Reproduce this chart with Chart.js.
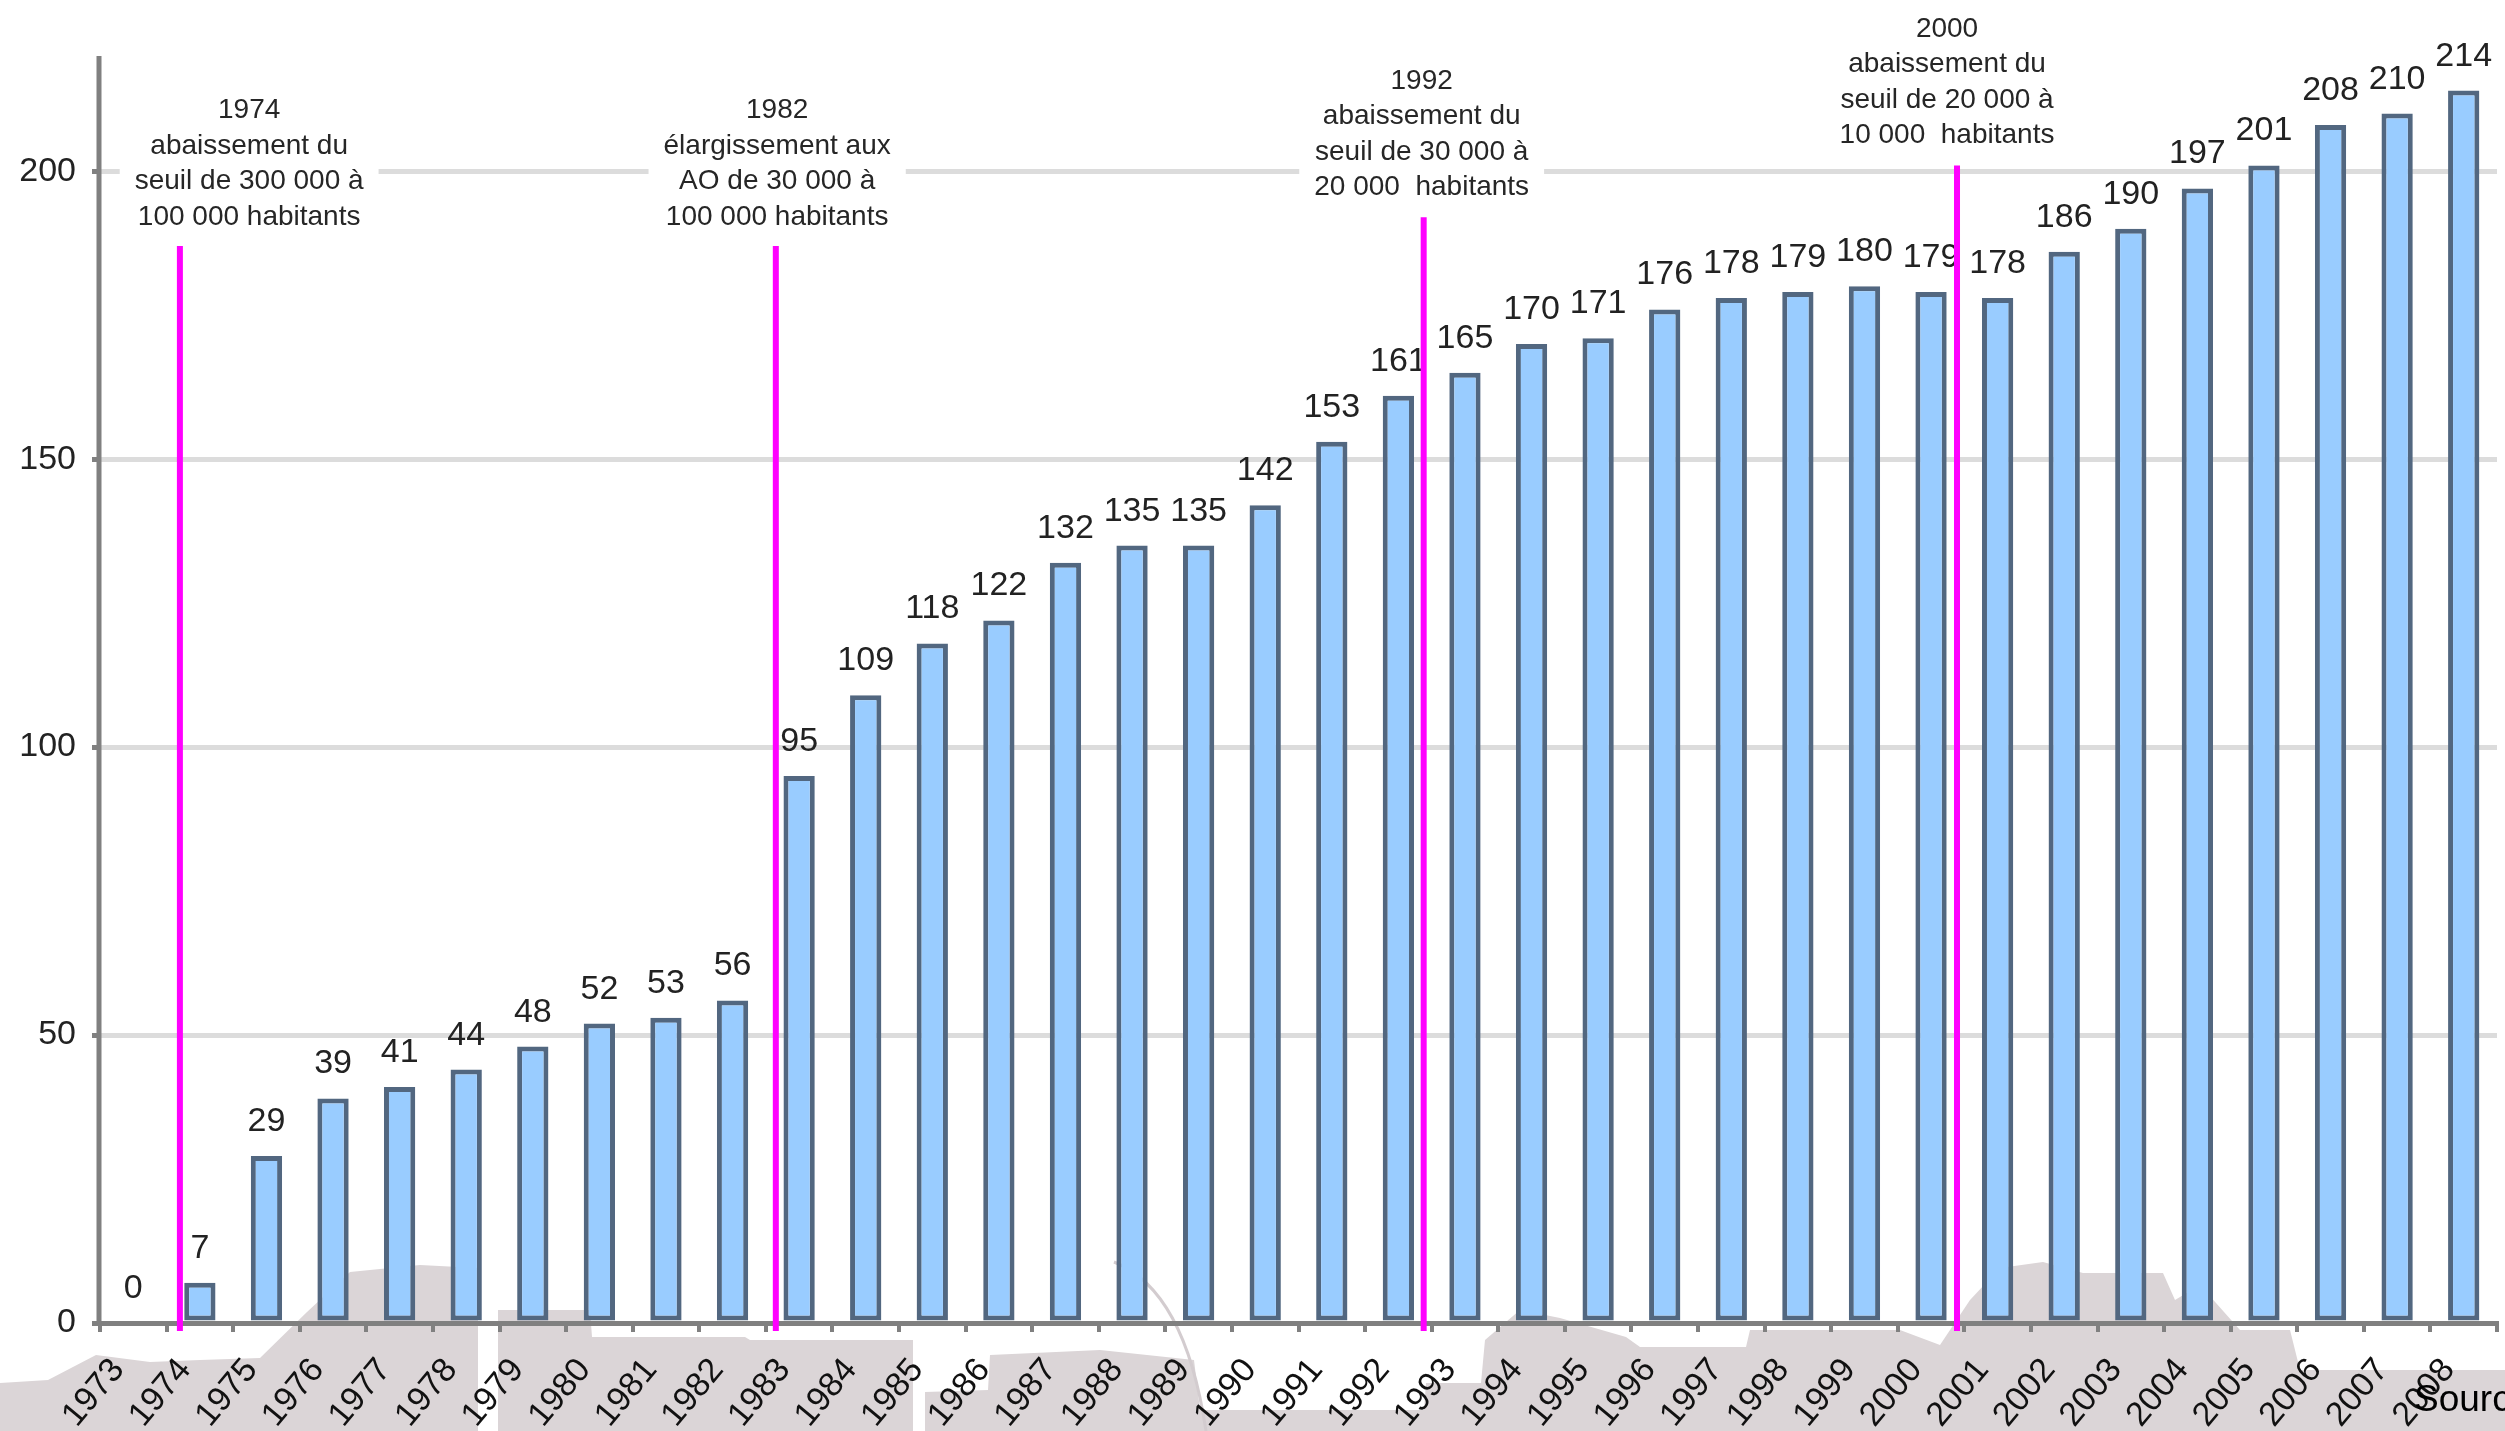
<!DOCTYPE html>
<html>
<head>
<meta charset="utf-8">
<script src="https://cdn.jsdelivr.net/npm/chart.js@4.4.1/dist/chart.umd.min.js"></script>
<style>
  html, body { margin: 0; padding: 0; background: #fff; }
  canvas { display: block; }
</style>
</head>
<body>
<canvas id="aoChart" width="2505" height="1431"></canvas>
<script>
const years = ['1973', '1974', '1975', '1976', '1977', '1978', '1979', '1980', '1981', '1982',
  '1983', '1984', '1985', '1986', '1987', '1988', '1989', '1990', '1991', '1992',
  '1993', '1994', '1995', '1996', '1997', '1998', '1999', '2000', '2001', '2002',
  '2003', '2004', '2005', '2006', '2007', '2008'];
const counts = [0, 7, 29, 39, 41, 44, 48, 52, 53, 56,
  95, 109, 118, 122, 132, 135, 135, 142, 153, 161,
  165, 170, 171, 176, 178, 179, 180, 179, 178, 186,
  190, 197, 201, 208, 210, 214];
const yTicks = [0, 50, 100, 150, 200];

const eventTexts = [
  ['1974', 'abaissement du', 'seuil de 300 000 à', '100 000 habitants'],
  ['1982', 'élargissement aux', 'AO de 30 000 à', '100 000 habitants'],
  ['1992', 'abaissement du', 'seuil de 30 000 à', '20 000  habitants'],
  ['2000', 'abaissement du', 'seuil de 20 000 à', '10 000  habitants']
];
const sourceText = 'Source';

// where the magenta markers sit (category index, fractional) and how high they reach
const eventLineAt = [0.70, 9.65, 19.38, 27.39];
const eventLineTop = [187, 187, 192, 201];
const eventTextAt = [1.74, 9.67, 19.35, 27.24];
const eventTextBottom = [192, 192, 197.2, 206.2];

const FONT = '"Liberation Sans", Arial, sans-serif';

// faint city silhouette behind the bottom of the chart (background picture)
const skyline = [
  [[0, 1431], [0, 1383], [48, 1380], [96, 1355], [150, 1362], [200, 1360], [260, 1358], [307, 1312],
   [350, 1272], [420, 1265], [478, 1268], [478, 1431]],
  [[498, 1431], [498, 1310], [590, 1310], [592, 1337], [745, 1337], [750, 1340], [913, 1340],
   [913, 1431]],
  [[925, 1431], [925, 1392], [988, 1390], [990, 1355], [1100, 1350], [1194, 1360], [1200, 1410],
   [1424, 1410], [1426, 1383], [1481, 1383], [1485, 1340], [1520, 1310], [1560, 1318], [1626, 1337],
   [1640, 1347], [1746, 1347], [1750, 1330], [1900, 1330], [1940, 1345], [1970, 1300], [2000, 1268],
   [2043, 1262], [2083, 1273], [2163, 1273], [2175, 1300], [2200, 1285], [2240, 1330], [2290, 1330],
   [2300, 1370], [2505, 1370], [2505, 1431]]
];

const backdrop = {
  id: 'backdrop',
  beforeDraw(chart) {
    const ctx = chart.ctx;
    ctx.save();
    ctx.fillStyle = '#ffffff';
    ctx.fillRect(0, 0, chart.width, chart.height);
    ctx.fillStyle = '#dbd5d7';
    skyline.forEach(poly => {
      ctx.beginPath();
      poly.forEach(([px, py], i) => (i ? ctx.lineTo(px, py) : ctx.moveTo(px, py)));
      ctx.closePath();
      ctx.fill();
    });
    // thin cable curve of the bridge
    ctx.strokeStyle = '#d3cccf';
    ctx.lineWidth = 3;
    ctx.beginPath();
    ctx.moveTo(1114, 1262);
    ctx.quadraticCurveTo(1185, 1290, 1206, 1431);
    ctx.stroke();
    ctx.restore();
  }
};

const eventNotes = {
  id: 'eventNotes',
  beforeDatasetsDraw(chart) {
    const ctx = chart.ctx;
    const xs = chart.scales.x, ys = chart.scales.y;
    const area = chart.chartArea;
    const lh = 35.5;
    ctx.save();
    // y axis line
    ctx.strokeStyle = '#808080';
    ctx.lineWidth = 5;
    ctx.beginPath();
    ctx.moveTo(area.left - 1, area.top);
    ctx.lineTo(area.left - 1, area.bottom);
    ctx.stroke();
    // milestone captions on white boxes
    ctx.font = '28px ' + FONT;
    ctx.textAlign = 'center';
    ctx.textBaseline = 'middle';
    eventTexts.forEach((lines, k) => {
      const cx = xs.getPixelForValue(eventTextAt[k]);
      const lastY = ys.getPixelForValue(eventTextBottom[k]);
      const firstY = lastY - lh * (lines.length - 1);
      const w = Math.max(...lines.map(t => ctx.measureText(t).width)) + 30;
      ctx.fillStyle = '#ffffff';
      ctx.fillRect(cx - w / 2, firstY - lh / 2, w, lh * lines.length);
      ctx.fillStyle = '#262626';
      lines.forEach((t, i) => ctx.fillText(t, cx, firstY + i * lh));
    });
    ctx.restore();
  },
  afterDatasetsDraw(chart) {
    const ctx = chart.ctx;
    const xs = chart.scales.x, ys = chart.scales.y;
    const meta = chart.getDatasetMeta(0);
    ctx.save();
    // value labels above bars
    ctx.font = '34px ' + FONT;
    ctx.fillStyle = '#222';
    ctx.textAlign = 'center';
    ctx.textBaseline = 'alphabetic';
    meta.data.forEach((bar, i) => {
      ctx.fillText(String(counts[i]), bar.x, bar.y - 25);
    });
    // magenta milestone lines
    ctx.strokeStyle = '#ff00ff';
    ctx.lineWidth = 6;
    eventLineAt.forEach((v, k) => {
      const x = xs.getPixelForValue(v);
      ctx.beginPath();
      ctx.moveTo(x, ys.getPixelForValue(eventLineTop[k]));
      ctx.lineTo(x, ys.getPixelForValue(0) + 8);
      ctx.stroke();
    });
    ctx.restore();
  },
  afterDraw(chart) {
    const ctx = chart.ctx;
    ctx.save();
    ctx.font = '37px ' + FONT;
    ctx.fillStyle = '#000';
    ctx.textAlign = 'left';
    ctx.textBaseline = 'alphabetic';
    ctx.fillText(sourceText, 2414, 1411);
    ctx.restore();
  }
};

const ctx = document.getElementById('aoChart').getContext('2d');
const aoChart = new Chart(ctx, {
  type: 'bar',
  data: {
    labels: years,
    datasets: [{
      data: counts,
      backgroundColor: '#99ccff',
      borderColor: '#526780',
      borderWidth: 5,
      borderSkipped: false,
      barPercentage: 0.47,
      categoryPercentage: 1
    }]
  },
  options: {
    responsive: false,
    animation: false,
    layout: { padding: { top: 56, right: 8, left: 0, bottom: 0 } },
    plugins: {
      legend: { display: false },
      tooltip: { enabled: false }
    },
    scales: {
      x: {
        grid: { display: true, drawOnChartArea: false, tickLength: 9, tickColor: '#808080', lineWidth: 4 },
        border: { color: '#808080', width: 5 },
        ticks: {
          font: { size: 34, family: FONT },
          color: '#111',
          minRotation: 50,
          maxRotation: 50,
          autoSkip: false,
          padding: 19,
          labelOffset: -15
        },
        afterFit(scale) {
          scale.height = 108;
          scale.paddingLeft = 0;
          scale.paddingRight = 0;
        }
      },
      y: {
        min: 0,
        max: 220,
        afterBuildTicks(scale) { scale.ticks = yTicks.map(v => ({ value: v })); },
        grid: { color: '#dcdcdc', lineWidth: 5, tickColor: '#808080', tickLength: 8 },
        border: { display: false },
        ticks: { font: { size: 34, family: FONT }, color: '#222', padding: 16 },
        afterFit(scale) { scale.width = 100; }
      }
    }
  },
  plugins: [backdrop, eventNotes]
});
</script>
</body>
</html>
